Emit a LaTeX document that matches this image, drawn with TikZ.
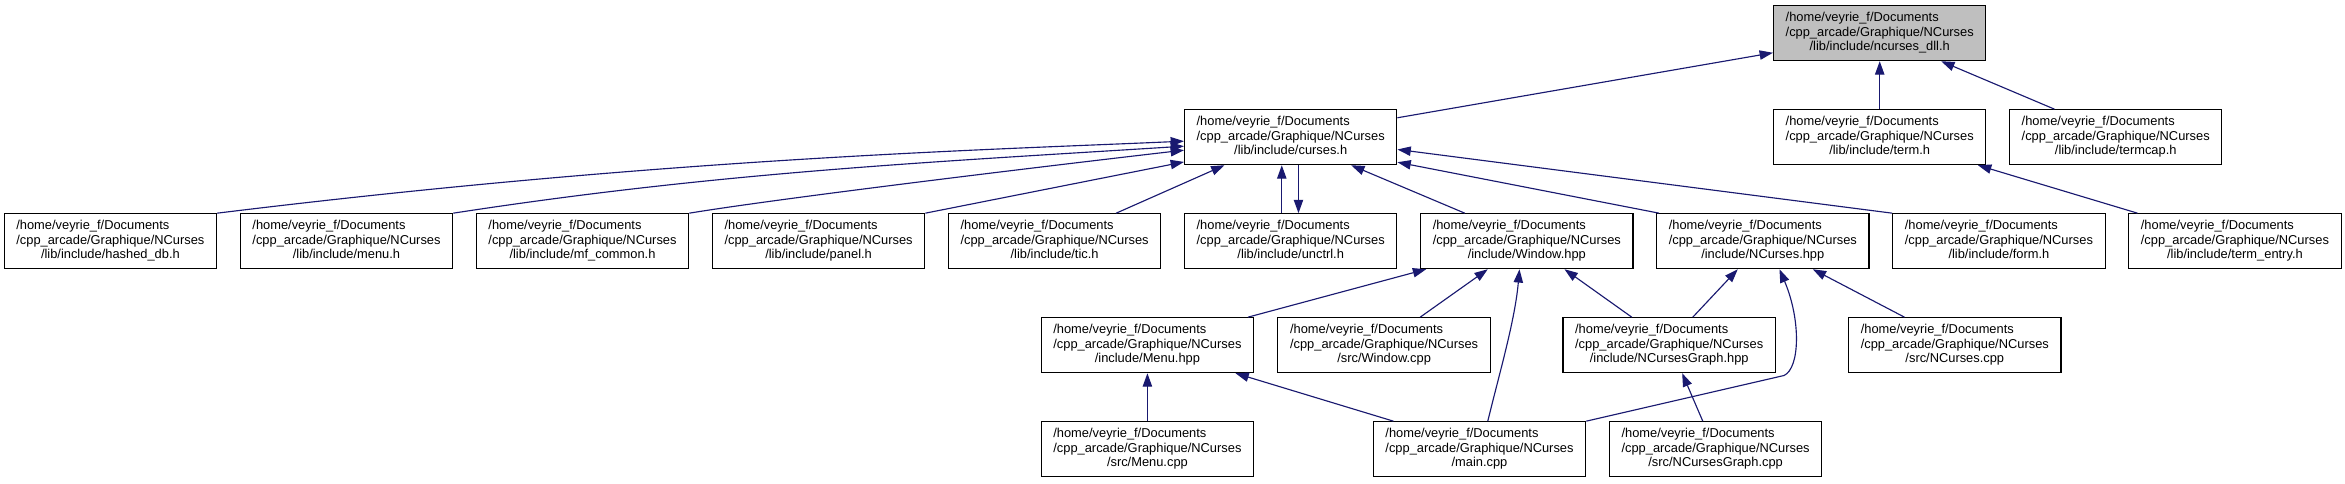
\documentclass[tikz,border=0pt]{standalone}
\usepackage{fontspec}
\setmainfont{Liberation Sans}
\usetikzlibrary{calc,arrows.meta}
\definecolor{edgeblue}{HTML}{191970}
\definecolor{rootgray}{HTML}{BFBFBF}
\newcommand{\fl}[1]{\begin{tabular}{@{}l@{}}/home/veyrie\_f/Documents\\/cpp\_arcade/Graphique/NCurses\\\multicolumn{1}{@{}c@{}}{#1}\end{tabular}}
\tikzset{
  filebox/.style={draw=black, line width=0.8pt, fill=white, minimum width=159.3pt, minimum height=41.25pt, inner sep=0pt, font=\fontsize{9.65}{10.6}\selectfont},
  rootbox/.style={filebox, fill=rootgray},
  dep/.style={draw=edgeblue, line width=0.85pt, -{Triangle[length=10pt,width=7pt]}, color=edgeblue}
}
\begin{document}
\begin{tikzpicture}[x=0.75pt,y=-0.75pt]
\fill[white] (0,0) rectangle (2345,483);
\useasboundingbox (0,0) rectangle (2345,483);
% row 0
\node[rootbox] (dll) at (1879.7,33.2) {\fl{/lib/include/ncurses\_dll.h}};
% row 1
\node[filebox] (curses) at (1290.7,137.2) {\fl{/lib/include/curses.h}};
\node[filebox] (term) at (1879.7,137.2) {\fl{/lib/include/term.h}};
\node[filebox] (termcap) at (2115.7,137.2) {\fl{/lib/include/termcap.h}};
% row 2
\node[filebox] (hashed) at (110.4,241.2) {\fl{/lib/include/hashed\_db.h}};
\node[filebox] (menuh) at (346.5,241.2) {\fl{/lib/include/menu.h}};
\node[filebox] (mf) at (582.5,241.2) {\fl{/lib/include/mf\_common.h}};
\node[filebox] (panel) at (818.6,241.2) {\fl{/lib/include/panel.h}};
\node[filebox] (tic) at (1054.6,241.2) {\fl{/lib/include/tic.h}};
\node[filebox] (unctrl) at (1290.7,241.2) {\fl{/lib/include/unctrl.h}};
\node[filebox] (winhpp) at (1526.8,241.2) {\fl{/include/Window.hpp}};
\node[filebox] (nchpp) at (1762.8,241.2) {\fl{/include/NCurses.hpp}};
\node[filebox] (form) at (1998.9,241.2) {\fl{/lib/include/form.h}};
\node[filebox] (tentry) at (2234.9,241.2) {\fl{/lib/include/term\_entry.h}};
% row 3
\node[filebox] (menuhpp) at (1147.4,345.2) {\fl{/include/Menu.hpp}};
\node[filebox] (wincpp) at (1384.1,345.2) {\fl{/src/Window.cpp}};
\node[filebox] (ncghpp) at (1669.2,345.2) {\fl{/include/NCursesGraph.hpp}};
\node[filebox] (nccpp) at (1954.8,345.2) {\fl{/src/NCurses.cpp}};
% row 4
\node[filebox] (menucpp) at (1147.4,449.2) {\fl{/src/Menu.cpp}};
\node[filebox] (maincpp) at (1479.5,449.2) {\fl{/main.cpp}};
\node[filebox] (ncgcpp) at (1715.6,449.2) {\fl{/src/NCursesGraph.cpp}};
% edges to ncurses_dll.h
\draw[dep] ($(curses.north east)+(0,8.6)$) -- ($(dll.north west)+(0,47.6)$);
\draw[dep] (term.north) -- (dll.south);
\draw[dep] ($(termcap.north west)+(45.5,0)$) -- ($(dll.south west)+(168.2,0)$);
% edge to term.h
\draw[dep] ($(tentry.north west)+(9.3,0)$) -- ($(term.south west)+(205,0)$);
% edges to curses.h
\draw[dep] (hashed.north east) .. controls (667,158) and (984,150) .. ($(curses.north west)+(0,32)$);
\draw[dep] (menuh.north east) .. controls (720,172) and (934,162) .. ($(curses.north west)+(0,37)$);
\draw[dep] (mf.north east) .. controls (788,197) and (1064,164) .. ($(curses.north west)+(0,41)$);
\draw[dep] (panel.north east) -- ($(curses.south west)+(0,-3.3)$);
\draw[dep] ($(tic.north west)+(168.3,0)$) -- ($(curses.south west)+(40.5,0)$);
\draw[dep] ($(unctrl.north west)+(97.8,0)$) -- ($(curses.south west)+(97.8,0)$);
\draw[dep] ($(curses.south west)+(114.5,0)$) -- ($(unctrl.north west)+(114.5,0)$);
\draw[dep] ($(winhpp.north west)+(44.7,0)$) -- ($(curses.south west)+(167.2,0)$);
\draw[dep] ($(nchpp.north west)+(3,0)$) -- ($(curses.south east)+(0,-3)$);
\draw[dep] (form.north west) -- ($(curses.north east)+(0,40.3)$);
% edges to Window.hpp
\draw[dep] ($(menuhpp.north west)+(207.3,0)$) -- ($(winhpp.south west)+(6.1,0)$);
\draw[dep] ($(wincpp.north west)+(142.8,0)$) -- ($(winhpp.south west)+(67.7,0)$);
\draw[dep] ($(maincpp.north west)+(115,0)$) .. controls (1500,371) and (1515,320) .. ($(winhpp.south west)+(99.4,0)$);
\draw[dep] ($(ncghpp.north west)+(69.3,0)$) -- ($(winhpp.south west)+(144.4,0)$);
% edges to NCurses.hpp
\draw[dep] ($(ncghpp.north west)+(130.3,0)$) -- ($(nchpp.south west)+(81.7,0)$);
\draw[dep] (maincpp.north east) -- (1784,375.5) .. controls (1800,368) and (1801,320) .. ($(nchpp.south west)+(123.4,0)$);
\draw[dep] ($(nccpp.north west)+(56.4,0)$) -- ($(nchpp.south west)+(156.7,0)$);
% edges to Menu.hpp
\draw[dep] (menucpp.north) -- (menuhpp.south);
\draw[dep] ($(maincpp.north west)+(20.7,0)$) -- ($(menuhpp.south west)+(194.8,0)$);
% edge to NCursesGraph.hpp
\draw[dep] ($(ncgcpp.north west)+(93.9,0)$) -- ($(ncghpp.south west)+(119.7,0)$);
\end{tikzpicture}
\end{document}
